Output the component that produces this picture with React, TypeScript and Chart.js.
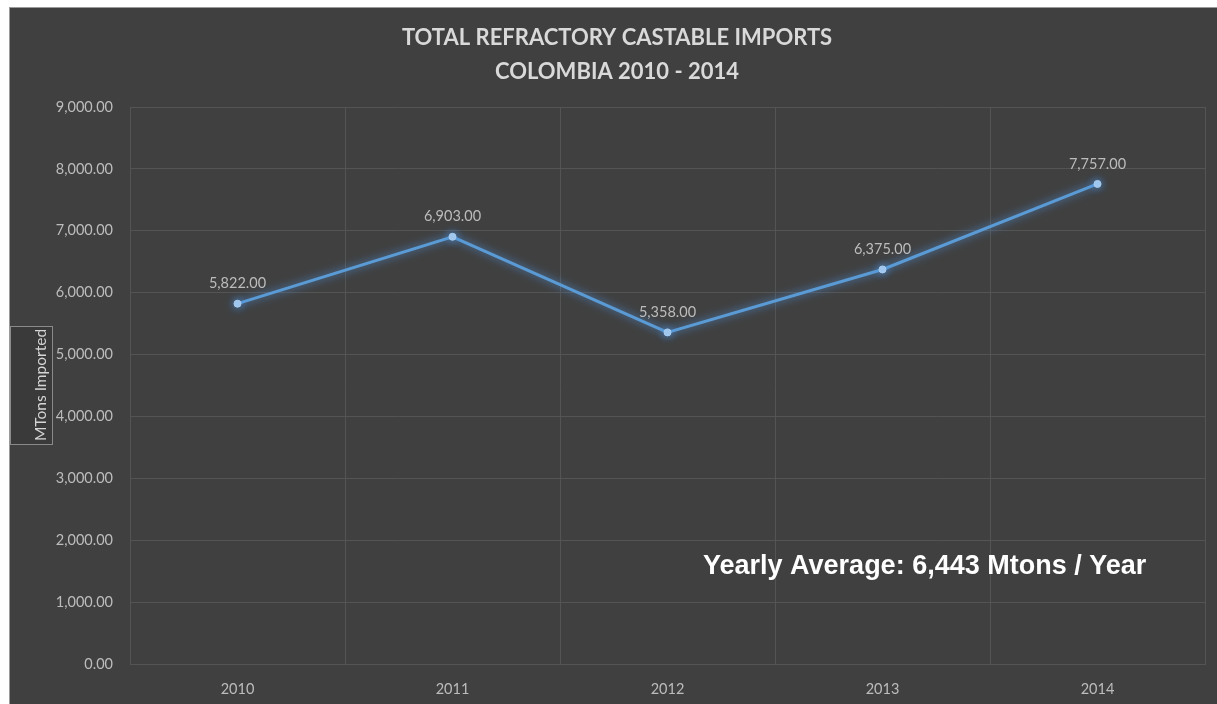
import React, { useEffect, useRef } from "react";
import { Chart, registerables } from "chart.js";

Chart.register(...registerables);

const years = ["2010", "2011", "2012", "2013", "2014"];
const imports = [5822, 6903, 5358, 6375, 7757];
const titleLines = ["TOTAL REFRACTORY CASTABLE IMPORTS", "COLOMBIA 2010 - 2014"];
const yAxisTitle = "MTons Imported";
const averageNote = "Yearly Average: 6,443 Mtons / Year";
const yMin = 0;
const yMax = 9000;
const yStep = 1000;

const fmt = (v: number) =>
  v.toLocaleString("en-US", { minimumFractionDigits: 2, maximumFractionDigits: 2 });

const decorPlugin = {
  id: "decor",
  beforeDatasetsDraw(chart: any) {
    const ctx = chart.ctx;
    ctx.save();
    ctx.shadowColor = "rgba(80,150,230,0.9)";
    ctx.shadowBlur = 8;
  },
  afterDatasetsDraw(chart: any) {
    const ctx = chart.ctx;
    ctx.restore();
    const meta = chart.getDatasetMeta(0);
    ctx.save();
    ctx.font = "14.5px Lato, 'Open Sans', sans-serif";
    ctx.fillStyle = "#bcbcbc";
    ctx.textAlign = "center";
    ctx.textBaseline = "middle";
    meta.data.forEach((pt: any, i: number) => {
      ctx.fillText(fmt(imports[i]), pt.x, pt.y - 20);
    });
    ctx.restore();
  },
  afterDraw(chart: any) {
    const ctx = chart.ctx;
    ctx.save();
    ctx.font = "bold 22px Lato, 'Open Sans', sans-serif";
    ctx.fillStyle = "#d9d9d9";
    ctx.textAlign = "center";
    ctx.textBaseline = "middle";
    ctx.fillText(titleLines[0], 607, 30);
    ctx.fillText(titleLines[1], 607, 64);
    ctx.fillStyle = "#3a3a3a";
    ctx.fillRect(0, 318, 42, 118);
    ctx.strokeStyle = "#8a8a8a";
    ctx.lineWidth = 1;
    ctx.strokeRect(0.5, 318.5, 42, 118);
    ctx.translate(31, 377);
    ctx.rotate(-Math.PI / 2);
    ctx.font = "15.5px Lato, 'Open Sans', sans-serif";
    ctx.fillStyle = "#d4d4d4";
    ctx.fillText(yAxisTitle, 0, 0);
    ctx.restore();
    ctx.save();
    ctx.font = "bold 27px 'Liberation Sans', Arial, sans-serif";
    ctx.fillStyle = "#ffffff";
    ctx.textAlign = "left";
    ctx.textBaseline = "middle";
    ctx.fillText(averageNote, 693, 559);
    ctx.restore();
  },
};

export default function App() {
  const ref = useRef<HTMLCanvasElement>(null);
  useEffect(() => {
    if (!ref.current) return;
    const chart = new Chart(ref.current, {
      type: "line",
      data: {
        labels: years,
        datasets: [
          {
            data: imports,
            borderColor: "#5b9bd5",
            borderWidth: 3,
            pointRadius: 3.5,
            pointBackgroundColor: "#a9cdf0",
            pointBorderColor: "#a9cdf0",
            pointBorderWidth: 1,
            tension: 0,
          },
        ],
      },
      options: {
        animation: false,
        responsive: false,
        maintainAspectRatio: false,
        layout: { padding: { top: 99, right: 12, left: 0, bottom: 0 } },
        plugins: {
          legend: { display: false },
          title: { display: false },
          tooltip: { enabled: false },
        },
        scales: {
          x: {
            type: "category",
            offset: true,
            grid: { offset: true, color: "#545454", drawTicks: false },
            border: { color: "#545454" },
            ticks: {
              color: "#bcbcbc",
              font: { family: "Lato, 'Open Sans', sans-serif", size: 14.5 },
              padding: 17,
              maxRotation: 0,
            },
            afterFit(scale: any) {
              scale.height = 40;
            },
          },
          y: {
            min: yMin,
            max: yMax,
            grid: { color: "#545454", drawTicks: false },
            border: { color: "#545454" },
            ticks: {
              stepSize: yStep,
              color: "#bcbcbc",
              font: { family: "Lato, 'Open Sans', sans-serif", size: 14.5 },
              padding: 17,
              callback: (v: any) => fmt(Number(v)),
            },
            afterFit(scale: any) {
              scale.width = 120;
            },
          },
        },
      },
      plugins: [decorPlugin],
    } as any);
    return () => chart.destroy();
  }, []);

  return (
    <div
      style={{
        position: "fixed",
        left: 0,
        top: 0,
        width: 1217,
        height: 704,
        background: "#ffffff",
        overflow: "hidden",
      }}
    >
      <div
        style={{
          position: "absolute",
          left: 9,
          top: 7,
          width: 1208,
          height: 697,
          background: "#404040",
          borderLeft: "1px solid #9a9a9a",
          borderTop: "1px solid #9a9a9a",
        }}
      >
        <canvas ref={ref} width={1207} height={696} style={{ display: "block" }} />
      </div>
    </div>
  );
}
